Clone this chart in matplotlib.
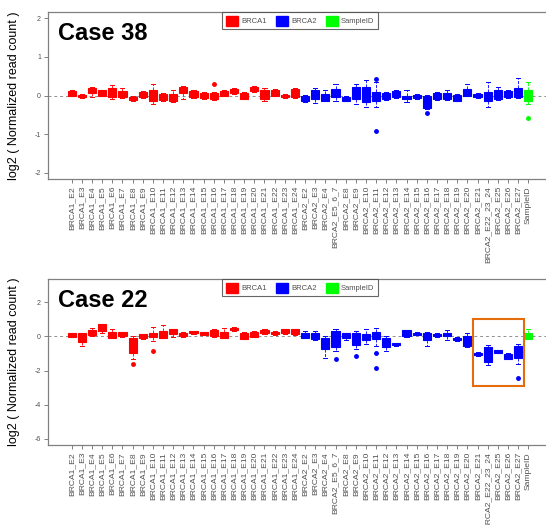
import matplotlib
matplotlib.use("Agg")
import matplotlib.pyplot as plt
from matplotlib.patches import Patch, Rectangle

plt.rcParams['font.family'] = ['Liberation Sans', 'DejaVu Sans']

# amplicon names along the x axis
brca1_exons = ["E2", "E3", "E4", "E5", "E6", "E7", "E8", "E9", "E10", "E11", "E12", "E13",
               "E14", "E15", "E16", "E17", "E18", "E19", "E20", "E21", "E22", "E23", "E24"]
brca2_exons = ["E2", "E3", "E4", "E5_6_7", "E8", "E9", "E10", "E11", "E12", "E13", "E14", "E15",
               "E16", "E17", "E18", "E19", "E20", "E21", "E22_23_24", "E25", "E26", "E27"]
labels = ["BRCA1_" + e for e in brca1_exons] + ["BRCA2_" + e for e in brca2_exons] + ["SampleID"]

# Case 38 box summaries (log2 normalized read count)
case38_q1 = [0.00, -0.05, 0.06, 0.00, -0.03, -0.04, -0.11, -0.04, -0.13, -0.11, -0.15, 0.06,
             -0.04, -0.06, -0.09, 0.00, 0.06, -0.08, 0.11, -0.09, 0.00, -0.04, -0.04,
             -0.15, -0.10, -0.13, -0.04, -0.13, -0.09, -0.16, -0.13, -0.09, -0.04, -0.09, -0.06,
             -0.32, -0.09, -0.10, -0.13, 0.00, -0.04, -0.13, -0.10, -0.04, -0.04, -0.13]
case38_med = [0.06, -0.02, 0.12, 0.07, 0.08, 0.04, -0.07, 0.03, 0.00, -0.04, -0.06, 0.14,
              0.04, 0.00, -0.02, 0.06, 0.12, -0.01, 0.17, 0.02, 0.08, -0.01, 0.07,
              -0.08, 0.02, -0.05, 0.07, -0.08, 0.07, 0.04, -0.02, -0.02, 0.04, -0.05, -0.02,
              -0.16, -0.02, -0.02, -0.06, 0.09, 0.00, -0.02, 0.02, 0.04, 0.08, 0.01]
case38_q3 = [0.12, 0.02, 0.19, 0.13, 0.20, 0.11, -0.03, 0.09, 0.13, 0.04, 0.03, 0.22,
             0.11, 0.06, 0.06, 0.11, 0.17, 0.06, 0.22, 0.13, 0.15, 0.02, 0.17,
             0.00, 0.13, 0.04, 0.17, -0.03, 0.22, 0.23, 0.09, 0.06, 0.11, 0.00, 0.02,
             0.00, 0.06, 0.06, 0.02, 0.17, 0.04, 0.09, 0.13, 0.11, 0.20, 0.15]
case38_lo = [-0.02, -0.07, -0.03, -0.02, -0.09, -0.06, -0.13, -0.06, -0.23, -0.13, -0.17, -0.09,
             -0.06, -0.08, -0.11, -0.02, 0.04, -0.10, 0.09, -0.13, -0.02, -0.06, -0.06,
             -0.17, -0.20, -0.15, -0.13, -0.15, -0.23, -0.29, -0.29, -0.11, -0.06, -0.17, -0.08,
             -0.34, -0.11, -0.12, -0.15, -0.02, -0.06, -0.29, -0.12, -0.06, -0.06, -0.22]
case38_hi = [0.14, 0.04, 0.21, 0.15, 0.26, 0.20, -0.01, 0.11, 0.29, 0.06, 0.13, 0.24,
             0.13, 0.08, 0.08, 0.13, 0.19, 0.08, 0.24, 0.20, 0.17, 0.04, 0.20,
             0.02, 0.20, 0.13, 0.30, -0.01, 0.30, 0.39, 0.35, 0.08, 0.13, 0.15, 0.04,
             0.02, 0.08, 0.13, 0.04, 0.29, 0.06, 0.36, 0.22, 0.13, 0.46, 0.35]
case38_fliers = {"BRCA1_E16": [0.30], "BRCA2_E11": [0.43, -0.93],
                 "BRCA2_E16": [-0.46], "SampleID": [-0.58]}

# Case 22 box summaries
case22_q1 = [-0.02, -0.31, 0.08, 0.31, -0.08, 0.02, -0.95, -0.12, -0.06, -0.08, 0.12, 0.02,
             0.17, 0.10, 0.02, -0.08, 0.37, -0.14, -0.02, 0.17, 0.14, 0.17, 0.12,
             -0.08, -0.17, -0.76, -0.60, -0.08, -0.52, -0.21, -0.17, -0.60, -0.52, 0.02, 0.10,
             -0.21, 0.02, 0.02, -0.21, -0.56, -1.10, -1.48, -0.95, -1.30, -1.24, -0.14]
case22_med = [0.08, -0.05, 0.22, 0.50, 0.10, 0.14, -0.50, 0.00, 0.06, 0.12, 0.26, 0.12,
              0.23, 0.18, 0.20, 0.10, 0.44, 0.04, 0.12, 0.27, 0.20, 0.29, 0.27,
              0.05, 0.00, -0.40, -0.15, 0.05, -0.15, -0.05, 0.04, -0.34, -0.46, 0.18, 0.16,
              0.00, 0.08, 0.12, -0.15, -0.27, -1.02, -1.04, -0.88, -1.18, -0.90, 0.04]
case22_q3 = [0.17, 0.17, 0.37, 0.70, 0.25, 0.25, -0.08, 0.12, 0.17, 0.31, 0.41, 0.21,
             0.29, 0.25, 0.37, 0.27, 0.50, 0.21, 0.25, 0.37, 0.27, 0.41, 0.41,
             0.17, 0.17, -0.08, 0.31, 0.17, 0.21, 0.12, 0.25, -0.08, -0.41, 0.35, 0.21,
             0.21, 0.15, 0.21, -0.08, 0.02, -0.95, -0.60, -0.82, -1.05, -0.56, 0.21]
case22_lo = [-0.05, -0.56, 0.03, 0.21, -0.12, -0.02, -1.34, -0.16, -0.25, -0.12, -0.06, -0.02,
             0.14, 0.06, -0.03, -0.12, 0.33, -0.18, -0.06, 0.13, 0.10, 0.13, 0.08,
             -0.12, -0.21, -1.24, -0.85, -0.21, -0.72, -0.47, -0.56, -0.85, -0.56, -0.02, 0.06,
             -0.56, -0.02, -0.23, -0.25, -0.60, -1.14, -1.69, -0.99, -1.34, -1.60, -0.18]
case22_hi = [0.20, 0.20, 0.50, 0.75, 0.45, 0.28, 0.00, 0.15, 0.56, 0.64, 0.45, 0.25,
             0.32, 0.28, 0.41, 0.50, 0.54, 0.25, 0.29, 0.41, 0.31, 0.45, 0.45,
             0.31, 0.29, 0.02, 0.41, 0.21, 0.31, 0.41, 0.50, 0.02, -0.37, 0.39, 0.25,
             0.25, 0.19, 0.35, -0.04, 0.17, -0.91, -0.52, -0.78, -0.99, -0.46, 0.45]
case22_fliers = {"BRCA1_E8": [-1.63], "BRCA1_E10": [-0.83], "BRCA2_E5_6_7": [-1.30],
                 "BRCA2_E9": [-1.15], "BRCA2_E11": [-1.00, -1.88], "BRCA2_E27": [-2.45]}

# deleted region highlighted in case 22
highlight = ["BRCA2_E21", "BRCA2_E22_23_24", "BRCA2_E25", "BRCA2_E26", "BRCA2_E27"]
highlight_ylim = (-2.9, 1.0)

GENE_COLORS = {"BRCA1": "#FF0000", "BRCA2": "#0000FF", "SampleID": "#00FF00"}
AXIS_GRAY = "#808080"
TEXT_GRAY = "#505050"


def gene_of(name):
    return name.split('_')[0]


def make_stats(q1, med, q3, lo, hi, fliers):
    stats = []
    for i, name in enumerate(labels):
        stats.append(dict(q1=q1[i], med=med[i], q3=q3[i], whislo=lo[i], whishi=hi[i],
                          fliers=fliers.get(name, [])))
    return stats


def draw_panel(ax, stats, yticks, ylim, title):
    positions = list(range(1, len(labels) + 1))
    ax.axhline(0, color='#909090', linestyle=(0, (3, 3)), linewidth=0.7, zorder=0)

    bp = ax.bxp(stats, positions=positions, widths=0.8, capwidths=0.4, patch_artist=True,
                manage_ticks=False,
                whiskerprops=dict(linestyle='--', linewidth=0.6),
                capprops=dict(linewidth=0.7),
                flierprops=dict(marker='o', markersize=2.5, linestyle='none'))
    for i, name in enumerate(labels):
        c = GENE_COLORS[gene_of(name)]
        bp['boxes'][i].set_facecolor(c)
        bp['boxes'][i].set_edgecolor(c)
        bp['boxes'][i].set_linewidth(0.8)
        bp['medians'][i].set_color(c)
        for line in bp['whiskers'][2 * i:2 * i + 2] + bp['caps'][2 * i:2 * i + 2]:
            line.set_color(c)
        bp['fliers'][i].set_markerfacecolor(c)
        bp['fliers'][i].set_markeredgecolor(c)

    ax.set_xlim(0.5 - 0.04 * len(labels), len(labels) + 0.5 + 0.04 * len(labels))
    ax.set_ylim(*ylim)
    ax.set_xticks(positions)
    ax.set_xticklabels(labels, rotation=90, fontsize=6.1, color=TEXT_GRAY)
    ax.set_yticks(yticks)
    ax.set_yticklabels([str(t) for t in yticks], fontsize=5, color=TEXT_GRAY)
    ax.tick_params(axis='both', length=3, width=0.7, color=AXIS_GRAY, pad=2)
    for side in ['left', 'bottom', 'top', 'right']:
        ax.spines[side].set_color(AXIS_GRAY)
        ax.spines[side].set_linewidth(0.9)

    handles = [Patch(facecolor=GENE_COLORS[g], edgecolor=GENE_COLORS[g]) for g in GENE_COLORS]
    leg = ax.legend(handles, list(GENE_COLORS.keys()), loc='upper center', ncol=3,
                    fontsize=5.5, frameon=True, fancybox=False, borderaxespad=0,
                    handlelength=1.6, handleheight=1.6, handletextpad=0.4,
                    columnspacing=1.2, borderpad=0.5, labelcolor=TEXT_GRAY)
    leg.get_frame().set_edgecolor('#404040')
    leg.get_frame().set_linewidth(0.8)

    ax.text(0.02, 0.83, title, transform=ax.transAxes, fontsize=17, fontweight='bold',
            va='baseline', ha='left')


def main():
    fig = plt.figure(figsize=(5.46, 5.25), dpi=100)
    W, H = 546.0, 525.0
    left_px, right_px = 48, 552

    ax1 = fig.add_axes([left_px / W, 1 - 179 / H, (right_px - left_px) / W, 167 / H])
    draw_panel(ax1, make_stats(case38_q1, case38_med, case38_q3, case38_lo, case38_hi, case38_fliers),
               [-2, -1, 0, 1, 2], (-2.16, 2.16), "Case 38")

    ax2 = fig.add_axes([left_px / W, 1 - 445 / H, (right_px - left_px) / W, 166 / H])
    draw_panel(ax2, make_stats(case22_q1, case22_med, case22_q3, case22_lo, case22_hi, case22_fliers),
               [-6, -4, -2, 0, 2], (-6.36, 3.36), "Case 22")

    # orange box around the deleted exons
    x0 = labels.index(highlight[0]) + 1 - 0.45
    x1 = labels.index(highlight[-1]) + 1 + 0.55
    ax2.add_patch(Rectangle((x0, highlight_ylim[0]), x1 - x0, highlight_ylim[1] - highlight_ylim[0],
                            fill=False, edgecolor='#E46C0A', linewidth=1.5, zorder=5))

    for ax in (ax1, ax2):
        pos = ax.get_position()
        fig.text(14 / W, pos.y0 + pos.height / 2, "log2 ( Normalized read count )",
                 rotation=90, ha='center', va='center', fontsize=9)

    fig.savefig("out.png", dpi=100)


if __name__ == "__main__":
    main()
